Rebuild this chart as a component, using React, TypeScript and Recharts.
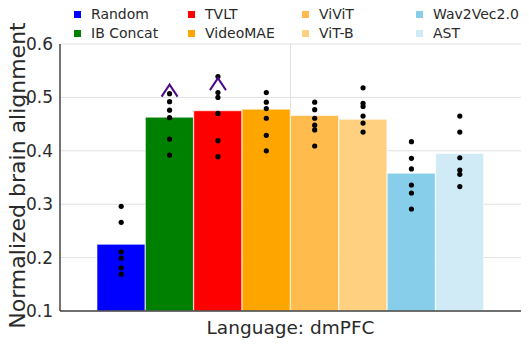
import {
  ComposedChart, Bar, Cell, Line, XAxis, YAxis, CartesianGrid,
} from 'recharts'

const models = ['Random', 'IB Concat', 'TVLT', 'VideoMAE', 'ViViT', 'ViT-B', 'Wav2Vec2.0', 'AST']
const colors = ['#0000ff', '#008000', '#ff0000', '#ffa500', '#ffbc4d', '#ffd080', '#87ceeb', '#d0ebf6']
const means = [0.225, 0.463, 0.475, 0.478, 0.466, 0.459, 0.358, 0.395]

// per-subject scores (6 subjects)
const subjectScores = [
  [0.296, 0.266, 0.211, 0.199, 0.181, 0.169],
  [0.507, 0.492, 0.476, 0.462, 0.422, 0.392],
  [0.539, 0.509, 0.500, 0.470, 0.419, 0.389],
  [0.509, 0.491, 0.479, 0.461, 0.429, 0.400],
  [0.491, 0.477, 0.461, 0.448, 0.439, 0.409],
  [0.518, 0.489, 0.483, 0.465, 0.452, 0.435],
  [0.417, 0.386, 0.366, 0.336, 0.321, 0.291],
  [0.465, 0.435, 0.387, 0.364, 0.356, 0.333],
]

// significance carets above bars
const caretValues = [null, 0.524, 0.536, null, null, null, null, null]

const yTicks = [0.1, 0.2, 0.3, 0.4, 0.5, 0.6]

const FONT = '"DejaVu Sans", Verdana, sans-serif'
const TEXT = '#2a2a2a'
const AXIS = '#444'

const data = models.map((m, i) => {
  const row: Record<string, string | number | null> = { model: m, mean: means[i], caret: caretValues[i] }
  subjectScores[i].forEach((v, j) => { row[`s${j}`] = v })
  return row
})

function renderDot(props: any) {
  const { cx, cy, index } = props
  if (cx == null || cy == null) return <g key={`d-${index}`} />
  return <circle key={`d-${index}`} cx={cx} cy={cy} r={2.6} fill="#000" />
}

function renderCaret(props: any) {
  const { cx, cy, index, value } = props
  if (cx == null || cy == null || value == null) return <g key={`c-${index}`} />
  return (
    <path
      key={`c-${index}`}
      d={`M${cx - 8},${cy + 12} L${cx},${cy} L${cx + 8},${cy + 12}`}
      fill="none"
      stroke="#4b0a8c"
      strokeWidth={2}
    />
  )
}

function LegendBox() {
  return (
    <div style={{ position: 'absolute', left: 0, top: 0, fontFamily: FONT, fontSize: 14, color: TEXT }}>
      {models.map((m, i) => {
        const col = Math.floor(i / 2)
        const row = i % 2
        return (
          <div
            key={m}
            style={{
              position: 'absolute', left: 74 + col * 114, top: 5 + row * 19,
              display: 'flex', alignItems: 'center', whiteSpace: 'nowrap', height: 18,
            }}
          >
            <span style={{ width: 7, height: 7, background: colors[i], display: 'inline-block', marginRight: 10 }} />
            <span>{m}</span>
          </div>
        )
      })}
    </div>
  )
}

export default function App() {
  return (
    <div style={{ position: 'absolute', left: 0, top: 0, width: 529, height: 364, background: '#fff', fontFamily: FONT }}>
      <ComposedChart
        width={529}
        height={364}
        data={data}
        margin={{ top: 44, right: 8, bottom: 0, left: 0 }}
        barCategoryGap={0}
        barGap={0}
      >
        <CartesianGrid
          stroke="#e0e0e0"
          horizontal
          vertical
          verticalCoordinatesGenerator={({ offset }: any) => [offset.left + offset.width / 2]}
        />
        <XAxis
          dataKey="model"
          padding={{ left: 37, right: 37 }}
          tick={false}
          tickLine={false}
          axisLine={{ stroke: AXIS, strokeWidth: 1.5 }}
          height={53}
          label={({ viewBox }: any) => (
            <text
              x={viewBox.x + viewBox.width / 2}
              y={viewBox.y + 23}
              textAnchor="middle"
              fontSize={18.5}
              fill={TEXT}
              fontFamily={FONT}
            >
              Language: dmPFC
            </text>
          )}
        />
        <XAxis xAxisId="top" dataKey="model" orientation="top" height={0} tick={false} tickLine={false}
          axisLine={{ stroke: AXIS, strokeWidth: 1.5 }} padding={{ left: 37, right: 37 }} />
        <YAxis
          domain={[0.1, 0.6]}
          ticks={yTicks}
          width={60}
          tickLine={false}
          tickSize={5}
          tickMargin={2}
          tick={{ fontSize: 17, fill: TEXT, fontFamily: FONT }}
          tickFormatter={(v) => v.toFixed(1)}
          axisLine={{ stroke: AXIS, strokeWidth: 1.5 }}
          allowDataOverflow
          label={({ viewBox }: any) => {
            const x = 25
            const y = viewBox.y + viewBox.height / 2 - 2
            return (
              <text
                x={x}
                y={y}
                transform={`rotate(-90 ${x} ${y})`}
                textAnchor="middle"
                fontSize={22}
                fill={TEXT}
                fontFamily={FONT}
              >
                Normalized brain alignment
              </text>
            )
          }}
        />
        <YAxis yAxisId="right" orientation="right" width={0} domain={[0.1, 0.6]} tick={false} tickLine={false}
          axisLine={{ stroke: AXIS, strokeWidth: 1.5 }} />
        <Bar dataKey="mean" isAnimationActive={false} stroke="#ffffff" strokeOpacity={0.6} strokeWidth={1}>
          {models.map((m, i) => <Cell key={m} fill={colors[i]} />)}
        </Bar>
        {[0, 1, 2, 3, 4, 5].map((j) => (
          <Line
            key={j}
            dataKey={`s${j}`}
            stroke="none"
            dot={renderDot}
            activeDot={false}
            isAnimationActive={false}
          />
        ))}
        <Line dataKey="caret" stroke="none" dot={renderCaret} activeDot={false} isAnimationActive={false} />
      </ComposedChart>
      <LegendBox />
    </div>
  )
}
